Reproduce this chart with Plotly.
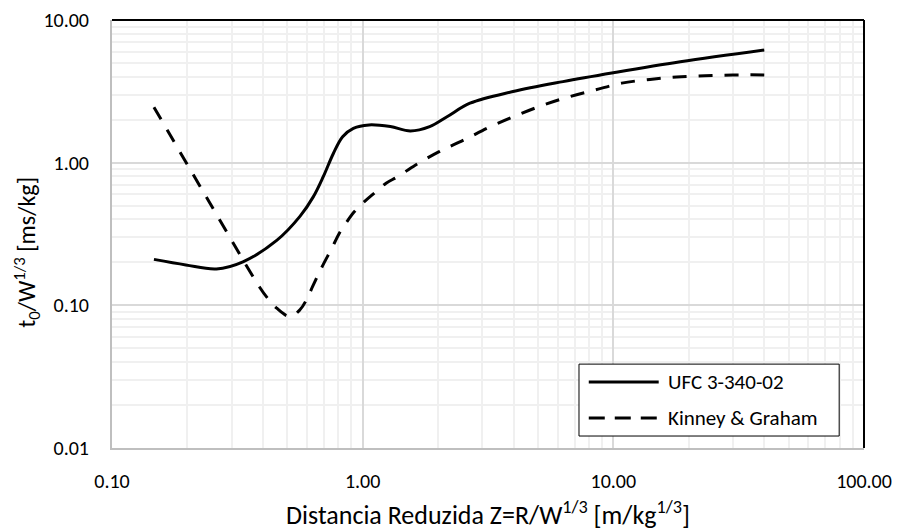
import plotly.graph_objects as go

# UFC 3-340-02 (solid)
ufc_z = [0.147, 0.197, 0.261, 0.333, 0.454, 0.562, 0.636, 0.697, 0.764, 0.832,
         0.918, 1.06, 1.29, 1.55, 1.85, 2.17, 2.68, 3.98, 6.3, 10.0, 18.5, 40.0]
ufc_t = [0.21, 0.192, 0.18, 0.202, 0.285, 0.42, 0.578, 0.80, 1.16, 1.52,
         1.74, 1.84, 1.79, 1.67, 1.79, 2.1, 2.61, 3.15, 3.7, 4.27, 5.1, 6.17]

# Kinney & Graham (dashed)
kg_z = [0.147, 0.246, 0.387, 0.418, 0.454, 0.513, 0.562, 0.601, 0.631, 0.682,
        0.759, 0.807, 0.857, 0.927, 1.016, 1.11, 1.24, 1.38, 1.62, 2.01, 2.53,
        3.22, 4.05, 5.14, 6.59, 8.45, 10.8, 14.0, 17.9, 23.2, 30.0, 40.0]
kg_t = [2.45, 0.519, 0.135, 0.112, 0.0955, 0.0834, 0.093, 0.112, 0.135, 0.18,
        0.258, 0.32, 0.376, 0.454, 0.533, 0.61, 0.718, 0.798, 0.96, 1.19, 1.44,
        1.78, 2.12, 2.5, 2.88, 3.23, 3.61, 3.83, 3.98, 4.06, 4.12, 4.12]

series_names = ["UFC 3-340-02", "Kinney & Graham"]

x_ticks = [0.1, 1, 10, 100]
x_tick_text = ["0.10", "1.00", "10.00", "100.00"]
y_ticks = [0.01, 0.1, 1, 10]
y_tick_text = ["0.01", "0.10", "1.00", "10.00"]

minor_x = [m * 10 ** e for e in (-1, 0, 1) for m in range(2, 10)]
minor_y = [m * 10 ** e for e in (-2, -1, 0) for m in range(2, 10)]

FONT = "Calibri, Carlito, Lato, sans-serif"
DASH = "14px,12px"

fig = go.Figure()
fig.add_trace(go.Scatter(x=ufc_z, y=ufc_t, mode="lines", name=series_names[0],
                         showlegend=False,
                         line=dict(color="black", width=3, shape="spline")))
fig.add_trace(go.Scatter(x=kg_z, y=kg_t, mode="lines", name=series_names[1],
                         showlegend=False,
                         line=dict(color="black", width=3, shape="spline",
                                   dash=DASH)))

# manual legend (box, line samples, labels) in paper coordinates
leg_shapes = [
    dict(type="rect", xref="paper", yref="paper", x0=0.621, x1=0.967, y0=0.028, y1=0.196,
         line=dict(color="black", width=1), fillcolor="white", layer="above"),
    dict(type="line", xref="paper", yref="paper", x0=0.634, x1=0.727, y0=0.154, y1=0.154,
         line=dict(color="black", width=3), layer="above"),
    dict(type="line", xref="paper", yref="paper", x0=0.634, x1=0.727, y0=0.070, y1=0.070,
         line=dict(color="black", width=3, dash="16px,10px"), layer="above"),
]
annots = [
    dict(xref="paper", yref="paper", x=0.737, y=0.154, xanchor="left", yanchor="middle",
         text=series_names[0], showarrow=False, font=dict(family=FONT, size=21, color="black")),
    dict(xref="paper", yref="paper", x=0.737, y=0.070, xanchor="left", yanchor="middle",
         text=series_names[1], showarrow=False, font=dict(family=FONT, size=21, color="black")),
    # y axis title
    dict(xref="paper", yref="paper", x=-0.113, y=0.456, xanchor="center", yanchor="middle",
         textangle=-90, text="t<sub>0</sub>/W<sup>1/3</sup> [ms/kg]", showarrow=False,
         font=dict(family=FONT, size=24, color="black")),
]

fig.update_layout(
    width=893, height=524,
    margin=dict(l=104, r=37, t=12, b=84, autoexpand=False),
    paper_bgcolor="white", plot_bgcolor="white",
    font=dict(family=FONT, size=20, color="black"),
    showlegend=False,
    xaxis=dict(type="log", range=[-1, 2], tickvals=x_ticks, ticktext=x_tick_text,
               showline=True, linecolor="#bfbfbf", linewidth=2,
               showgrid=True, gridcolor="#d9d9d9", gridwidth=1.5,
               minor=dict(tickvals=minor_x, showgrid=True, gridcolor="#f0f0f0",
                          gridwidth=1.5, ticks=""),
               ticks="", ticklabelstandoff=14, zeroline=False, automargin=False,
               title=dict(text="Distancia Reduzida Z=R/W<sup>1/3</sup> [m/kg<sup>1/3</sup>]",
                          standoff=14, font=dict(size=26))),
    yaxis=dict(type="log", range=[-2, 1], tickvals=y_ticks, ticktext=y_tick_text,
               showline=True, linecolor="#bfbfbf", linewidth=2,
               showgrid=True, gridcolor="#d9d9d9", gridwidth=1.5,
               minor=dict(tickvals=minor_y, showgrid=True, gridcolor="#f0f0f0",
                          gridwidth=1.5, ticks=""),
               ticks="", ticklabelstandoff=17, zeroline=False, automargin=False),
    shapes=[
        dict(type="line", xref="paper", yref="paper", x0=0, x1=1, y0=1, y1=1,
             line=dict(color="black", width=2)),
        dict(type="line", xref="paper", yref="paper", x0=1, x1=1, y0=0, y1=1,
             line=dict(color="black", width=2)),
    ] + leg_shapes,
    annotations=annots,
)

fig.write_html("out.html")
